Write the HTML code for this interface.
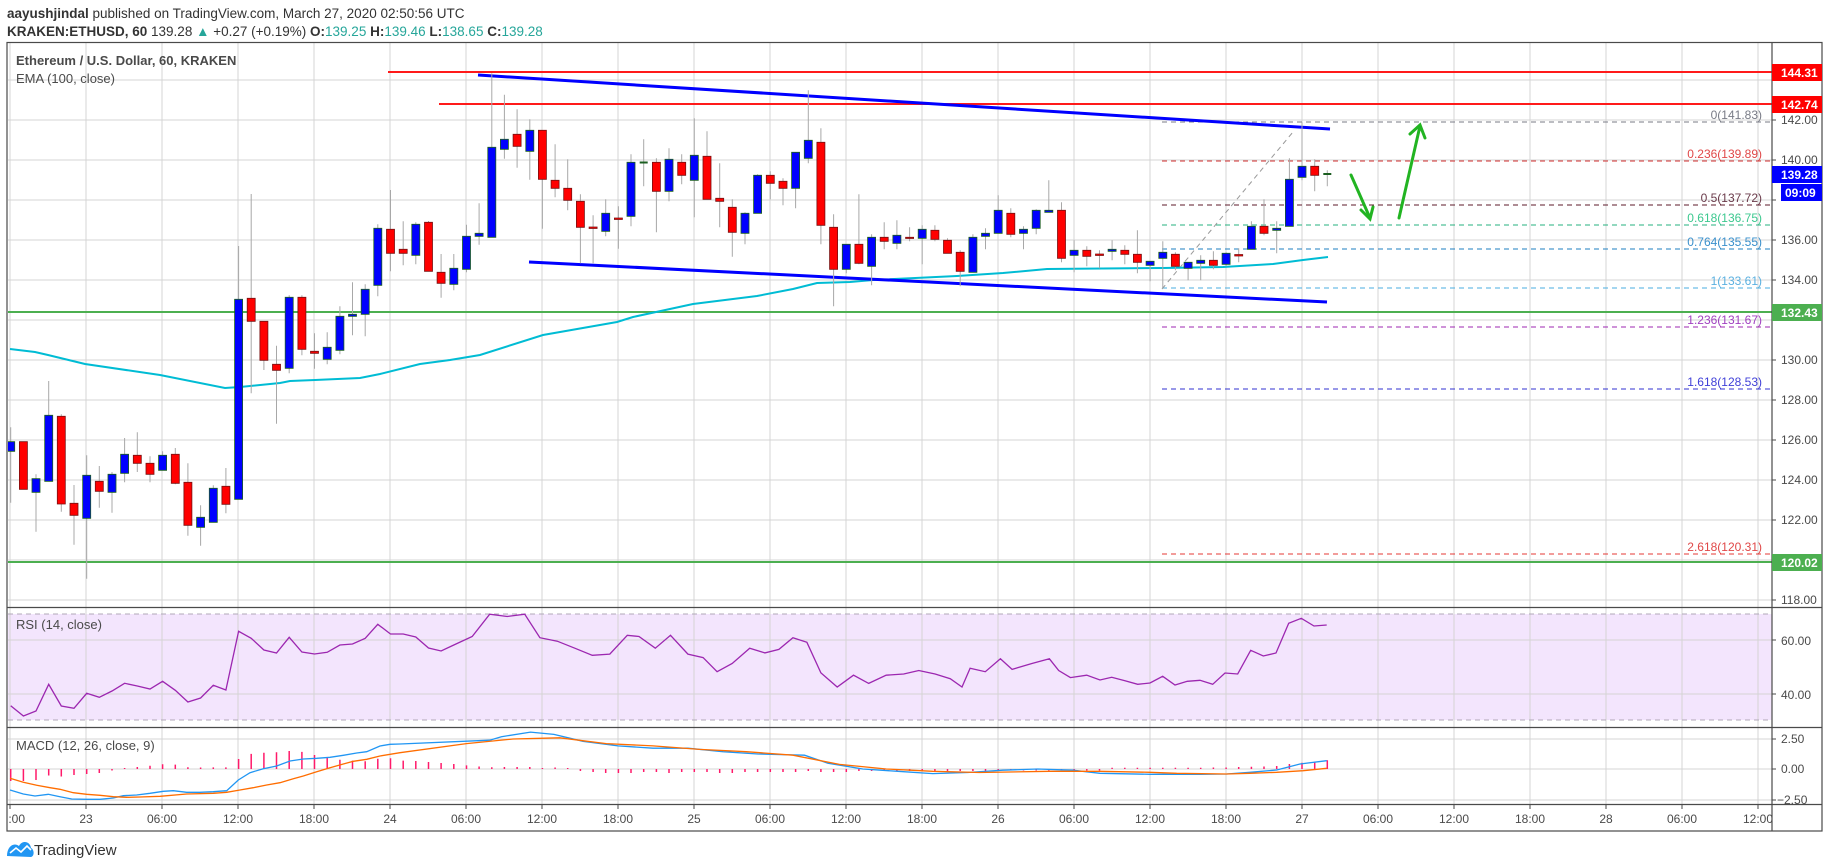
<!DOCTYPE html>
<html><head><meta charset="utf-8">
<style>
html,body{margin:0;padding:0;background:#fff;}
svg{display:block;font-family:"Liberation Sans",sans-serif;}
</style></head>
<body>
<svg width="1828" height="868" viewBox="0 0 1828 868" xmlns="http://www.w3.org/2000/svg">
<defs>
<clipPath id="cm"><rect x="8" y="43" width="1764" height="564"/></clipPath>
<clipPath id="ct"><rect x="8" y="805" width="1764" height="26"/></clipPath>
</defs>
<rect width="1828" height="868" fill="#fff"/>
<text x="7" y="18" font-size="13.5" fill="#333"><tspan font-weight="bold">aayushjindal</tspan> published on TradingView.com, March 27, 2020 02:50:56 UTC</text>
<text x="7" y="36" font-size="13.5" fill="#333"><tspan font-weight="bold">KRAKEN:ETHUSD, 60</tspan> 139.28 <tspan fill="#26a69a">▲</tspan> +0.27 (+0.19%) <tspan font-weight="bold">O:</tspan><tspan fill="#26a69a">139.25</tspan> <tspan font-weight="bold">H:</tspan><tspan fill="#26a69a">139.46</tspan> <tspan font-weight="bold">L:</tspan><tspan fill="#26a69a">138.65</tspan> <tspan font-weight="bold">C:</tspan><tspan fill="#26a69a">139.28</tspan></text>

<rect x="8" y="614" width="1764" height="106" fill="#f3e5fd"/>
<path stroke="#d4d4d4" stroke-width="1" fill="none" d="M10,43V804M86,43V804M162,43V804M238,43V804M314,43V804M390,43V804M466,43V804M542,43V804M618,43V804M694,43V804M770,43V804M846,43V804M922,43V804M998,43V804M1074,43V804M1150,43V804M1226,43V804M1302,43V804M1378,43V804M1454,43V804M1530,43V804M1606,43V804M1682,43V804M1758,43V804
M8,80H1772M8,120H1772M8,160H1772M8,200H1772M8,240H1772M8,280H1772M8,320H1772M8,360H1772M8,400H1772M8,440H1772M8,480H1772M8,520H1772M8,560H1772M8,600H1772M8,640H1772M8,694H1772M8,739H1772M8,769H1772M8,800H1772"/>
<line x1="8" y1="614" x2="1772" y2="614" stroke="#b0a8b8" stroke-dasharray="5,4"/>
<line x1="8" y1="720" x2="1772" y2="720" stroke="#b0a8b8" stroke-dasharray="5,4"/>

<g clip-path="url(#cm)">
<line x1="388" y1="72" x2="1772" y2="72" stroke="#ff1a1a" stroke-width="2"/>
<line x1="439" y1="104" x2="1772" y2="104" stroke="#ff1a1a" stroke-width="2"/>
<line x1="8" y1="312" x2="1772" y2="312" stroke="#4caf50" stroke-width="2"/>
<line x1="8" y1="562" x2="1772" y2="562" stroke="#4caf50" stroke-width="2"/>
<g stroke-dasharray="5,4" stroke-width="1">
<line x1="1162" y1="122" x2="1772" y2="122" stroke="#787b86"/>
<line x1="1162" y1="161" x2="1772" y2="161" stroke="#d32f2f"/>
<line x1="1162" y1="205" x2="1772" y2="205" stroke="#5d1a2a"/>
<line x1="1162" y1="225" x2="1772" y2="225" stroke="#26b07f"/>
<line x1="1162" y1="249" x2="1772" y2="249" stroke="#1e7fc0"/>
<line x1="1162" y1="288" x2="1772" y2="288" stroke="#4aaee0"/>
<line x1="1162" y1="327" x2="1772" y2="327" stroke="#9c27b0"/>
<line x1="1162" y1="389" x2="1772" y2="389" stroke="#3030d0"/>
<line x1="1162" y1="554" x2="1772" y2="554" stroke="#e53935"/>
<line x1="1162" y1="289" x2="1293" y2="132" stroke="#999"/>
</g>
<g font-size="12" text-anchor="end">
<text x="1762" y="119" fill="#787b86">0(141.83)</text>
<text x="1762" y="158" fill="#e04848">0.236(139.89)</text>
<text x="1762" y="202" fill="#6a3a4a">0.5(137.72)</text>
<text x="1762" y="222" fill="#3cc88f">0.618(136.75)</text>
<text x="1762" y="246" fill="#3a90cc">0.764(135.55)</text>
<text x="1762" y="285" fill="#5ab0e0">1(133.61)</text>
<text x="1762" y="324" fill="#a040c0">1.236(131.67)</text>
<text x="1762" y="386" fill="#4040d8">1.618(128.53)</text>
<text x="1762" y="551" fill="#e04848">2.618(120.31)</text>
</g>
<polyline fill="none" stroke="#00bcd4" stroke-width="2" points="10,349 35,352 48,355 85,364 160,375 225,388 240,387 280,383 290,381 315,380 360,378 380,374 420,364 450,360 480,355 543,335 617,322 633,317 693,304 733,299 757,296 793,289 817,283 850,282 873,280 957,276 1003,273 1047,269 1163,268 1223,267 1273,264 1303,260 1328,257"/>
<line x1="478" y1="75" x2="1330" y2="129" stroke="#0000ff" stroke-width="3"/>
<line x1="529" y1="262" x2="1327" y2="302" stroke="#0000ff" stroke-width="3"/>
<path stroke="#a8a8a8" stroke-width="1" fill="none" d="M10.7,427.3V502.7M23.4,441.7V489.3M36,474.3V531.7M48.7,381V481.3M61.3,414.3V511.7M74,485V544.7M86.7,455.3V578.7M99.3,466V507.7M112,472V512.7M124.6,438V482.3M137.3,432.3V472M150,456.3V482.3M162.6,451.3V470.3M175.3,448V484.3M187.9,463.3V535.7M200.6,505.3V545.7M213.3,485.3V522.3M225.9,468V513.3M238.6,246V499.3M251.2,194V393.3M263.9,321.3V370M276.5,345.7V423.7M289.2,295.3V373.3M301.9,295.3V355.3M314.5,333.3V368.7M327.2,332.3V364.3M339.9,306.3V354.3M352.5,282.3V335.3M365.2,284.3V336.3M377.8,224.3V296.3M390.5,190V271.3M403.2,221.3V265.3M415.8,222.3V264.3
M428.5,221V271.3M441.1,254V297.7M453.8,254V290.3M466.5,224.7V272.3M479.1,203.3V244.7M491.8,73.3V237.3M504.4,94.7V158.7M517.1,109.3V167.7M529.8,119.3V179.7M542.4,130.3V228.7M555.1,144.3V197.3M567.7,159.3V210.3M580.4,194.3V263.3M593.1,215.3V263.3M605.7,199.3V236.3M618.4,206.3V248.7M631,154.3V226.3M643.7,139.3V186.3M656.4,158.3V232.3M669,148.3V201.3M681.7,154.3V184.3M694.3,118.3V217.3M707,131.3V199.3M719.7,163.3V227.3M732.3,199.3V256.7M745,212.3V244.3M757.6,174.3V213.3M770.3,171.3V199.3M783,178.3V205.3M795.6,152.3V208.3M808.3,90.3V163.3M820.9,128.3V244.3M833.6,214.3V306.3M846.3,244.3V273.3
M858.9,194.3V264.3M871.6,234.3V285.3M884.2,222.3V249.3M896.9,220.3V249.3M909.6,227.3V241.3M922.2,225.3V264.3M934.9,225.3V241.3M947.5,238.3V253.3M960.2,250.3V286.3M972.9,234.3V272.3M985.5,228.3V249.3M998.2,195.3V233.3M1010.8,208.3V237.3M1023.5,226.3V249.3M1036.2,209.3V234.3M1048.8,180.3V212.3M1061.5,202.3V262.3M1074.1,240.3V272.3M1086.8,246.3V266.3M1099.5,250.3V268.3M1112.1,240.3V260.3M1124.8,245.3V264.3M1137.4,230.3V273.3M1150.1,261.3V281.3M1162.8,241.3V288.7M1175.4,252.3V270.3M1188.1,262.3V280.3M1200.7,255.3V280.3M1213.4,251.3V269.3M1226.1,252.3V266.3M1238.7,248.3V262.3M1251.4,221.3V249.3M1264,199.3V235.3M1276.7,221.3V253.3M1289.4,158.3V226.3M1302,122.3V180.3M1314.7,159.3V191.3M1327.3,170.3V186.3"/>
<path fill="#0000ff" stroke="#1b5e20" stroke-width="0.8" d="M6.7,441.7h8V451.3h-8ZM32,478.7h8V492.3h-8ZM44.7,415.3h8V481.3h-8ZM82.7,475.3h8V518.3h-8ZM108,474.3h8V492.3h-8ZM120.6,454.3h8V473.3h-8ZM158.6,455.3h8V470.3h-8ZM196.6,517.3h8V527.3h-8ZM209.3,488.3h8V522.3h-8ZM234.6,299.3h8V499.3h-8ZM285.2,297.3h8V368.3h-8ZM323.2,347.3h8V359.3h-8ZM335.9,316.3h8V350.3h-8ZM348.5,314.3h8V316.3h-8ZM361.2,289.3h8V314.3h-8ZM373.8,228.3h8V285.3h-8ZM411.8,224.3h8V255.3h-8Z
M449.8,268.3h8V284.3h-8ZM462.5,236.3h8V269.3h-8ZM475.1,233.3h8V236.3h-8ZM487.8,147.3h8V237.3h-8ZM500.4,139.3h8V149.3h-8ZM525.8,130.3h8V151.3h-8ZM601.7,213.3h8V231.3h-8ZM627,162.3h8V216.3h-8ZM665,159.3h8V191.3h-8ZM690.3,155.3h8V180.3h-8ZM741,213.3h8V233.3h-8ZM753.6,175.3h8V213.3h-8ZM791.6,152.3h8V188.3h-8ZM804.3,140.3h8V158.3h-8ZM842.3,244.3h8V269.3h-8Z
M867.6,237.3h8V266.3h-8ZM892.9,235.3h8V243.3h-8ZM918.2,229.3h8V238.3h-8ZM968.9,237.3h8V272.3h-8ZM981.5,233.3h8V236.3h-8ZM994.2,210.3h8V233.3h-8ZM1019.5,229.3h8V233.3h-8ZM1032.2,210.3h8V228.3h-8ZM1044.8,210.3h8V212.3h-8ZM1070.1,250.3h8V255.3h-8ZM1108.1,249.3h8V251.3h-8ZM1146.1,261.3h8V265.3h-8ZM1158.8,252.3h8V258.3h-8ZM1184.1,262.3h8V268.3h-8ZM1196.7,260.3h8V263.3h-8ZM1222.1,253.3h8V264.3h-8ZM1247.4,226.3h8V249.3h-8ZM1272.7,228.3h8V230.3h-8ZM1285.4,179.3h8V226.3h-8ZM1298,166.3h8V177.3h-8Z"/>
<path fill="#ff0000" stroke="#7a1010" stroke-width="0.8" d="M19.4,441.7h8V489.3h-8ZM57.3,416.3h8V504h-8ZM70,503.3h8V515.3h-8ZM95.3,481.3h8V491.3h-8ZM133.3,455.3h8V463.3h-8ZM146,463.3h8V474.3h-8ZM171.3,454.3h8V483.3h-8ZM183.9,482.3h8V525.3h-8ZM221.9,486.3h8V504.3h-8ZM247.2,298.3h8V321.3h-8ZM259.9,321.3h8V360.3h-8ZM272.5,364.3h8V370.3h-8ZM297.9,297.3h8V349.3h-8ZM310.5,351.3h8V353.3h-8ZM386.5,229.3h8V253.3h-8ZM399.2,249.3h8V253.3h-8Z
M424.5,222.3h8V271.3h-8ZM437.1,272.3h8V283.3h-8ZM513.1,134.3h8V146.3h-8ZM538.4,130.3h8V179.3h-8ZM551.1,180.3h8V188.3h-8ZM563.7,188.3h8V200.3h-8ZM576.4,201.3h8V227.3h-8ZM589.1,227h8V228.5h-8ZM614.4,218h8V219.5h-8ZM652.4,162.3h8V191.3h-8ZM677.7,162.3h8V175.3h-8ZM703,156.3h8V199.3h-8ZM715.7,198.3h8V201.3h-8ZM728.3,207.3h8V232.3h-8ZM766.3,175.3h8V183.3h-8ZM779,181.3h8V188.3h-8ZM816.9,142.3h8V225.3h-8ZM829.6,227.3h8V269.3h-8Z
M854.9,244.3h8V263.3h-8ZM880.2,237.3h8V241.3h-8ZM905.6,237.3h8V238.5h-8ZM930.9,230.3h8V239.3h-8ZM943.5,240.3h8V253.3h-8ZM956.2,252.3h8V271.3h-8ZM1006.8,213.3h8V234.3h-8ZM1057.5,210.3h8V258.3h-8ZM1082.8,250.3h8V256.3h-8ZM1095.5,254h8V255.5h-8ZM1120.8,250.3h8V254.3h-8ZM1133.4,254.3h8V262.3h-8ZM1171.4,254.3h8V266.3h-8ZM1209.4,260.3h8V265.3h-8ZM1234.7,254.5h8V256h-8ZM1260,226.3h8V233.3h-8ZM1310.7,166.3h8V175.3h-8Z"/>
<path fill="#1b5e20" d="M639.7,161.5h8v2h-8ZM1323.3,173h8v2h-8Z"/>
<g stroke="#22b422" stroke-width="3" fill="none" stroke-linecap="round">
<line x1="1351" y1="175" x2="1370" y2="218"/>
<polyline points="1361,210 1370,219 1373,207"/>
<line x1="1399" y1="218" x2="1420" y2="126"/>
<polyline points="1410,134 1420,125 1425,138"/>
</g>
</g>

<polyline fill="none" stroke="#9c27b0" stroke-width="1.3" points="10.7,705.7 23.4,716 36,711 48.7,684.3 61.3,706 74,708.3 86.7,693.3 99.3,697.3 112,691 124.6,683.3 137.3,686 150,689 162.6,681.3 175.3,690.3 187.9,702 200.6,698 213.3,685.3 225.9,690 238.6,631.3 251.2,638.3 263.9,650 276.5,653 289.2,637.3 301.9,652 314.5,654 327.2,652.3 339.9,645 352.5,644 365.2,638.3 377.8,624.3 390.5,634 403.2,634 415.8,637 428.5,648 441.1,651 453.8,645 472.2,636.5 489.7,614.2 507.2,616.5 524.7,614.2 539.9,637.7 557.3,641.2 574.8,648.2 592.3,655.3 609.8,654.1 627.3,635.3 639,636.5 655.3,648.2 670.5,635.3 687.9,654.1 703.1,657.6 717.1,671.7 732.2,663.5 749.7,648.2 764.9,652.9 778.9,649.4 792.9,637.7 806.9,642.3 820.9,672.9 837.2,687 853.5,675.2 868.7,683.4 886.2,675.2 903.7,674 918.8,670.5 935.1,674 950.3,678.7 962,687 970.1,668.2 985.3,671.7 1000.4,658.8 1012.1,669.4 1031.9,663.5 1049.4,658.8 1058.7,670.5 1070.4,677.6 1086.7,675.2 1100,680 1111.7,677.3 1125,680.7 1137.7,684.3 1150,683 1162.7,676.3 1175,685 1187.3,681.3 1200,680.3 1212.7,684.3 1225,673 1237.7,674 1250.7,650.3 1263.3,656 1276,653 1288.7,623.3 1301.3,618.3 1314,626 1326.7,625"/>

<path stroke="#ff1a6a" stroke-width="1.5" fill="none" d="M10.7,769V781M23.4,769V781M36,769V780M48.7,769V775.5M61.3,769V776.5M74,769V775M86.7,769V774M99.3,769V773M112,769V770.5M124.6,769V768M137.3,769V767M150,769V765.7M162.6,769V764.3M175.3,769V764.6M187.9,769V767.3M200.6,769V767.5M213.3,769V767.4M225.9,769V767.4M238.6,769V759M251.2,769V753.9M263.9,769V752.7M276.5,769V752.3M289.2,769V751M301.9,769V751.9M314.5,769V755M327.2,769V758M339.9,769V759.8M352.5,769V760.6M365.2,769V761.3M377.8,769V758.8M390.5,769V758.3M403.2,769V760.6M415.8,769V761M428.5,769V762M441.1,769V763M453.8,769V764M466.5,769V765.4M479.1,769V766.5M491.8,769V767.3M504.4,769V767M517.1,769V767M529.8,769V767M542.4,769V768M555.1,769V767.5M567.7,769V768M580.4,769V771M593.1,769V772M605.7,769V773M618.4,769V773M631,769V773M643.7,769V772M656.4,769V772M669,769V773M681.7,769V772M694.3,769V772M707,769V772M719.7,769V773M732.3,769V773M745,769V772M757.6,769V772M770.3,769V772M783,769V772M795.6,769V772M808.3,769V771M820.9,769V772M833.6,769V772M846.3,769V772M858.9,769V771M871.6,769V771M884.2,769V771M896.9,769V771M909.6,769V771M922.2,769V771M934.9,769V771M947.5,769V771M960.2,769V771M972.9,769V771M985.5,769V771M998.2,769V770.5M1010.8,769V770.5M1023.5,769V770.5M1036.2,769V770.5M1048.8,769V770.5M1061.5,769V770.5M1074.1,769V770.5M1086.8,769V770.5M1099.5,769V770.5M1112.1,769V767.8M1124.8,769V767.8M1137.4,769V767.8M1150.1,769V767.8M1162.8,769V767.8M1175.4,769V767.8M1188.1,769V767.8M1200.7,769V767.8M1213.4,769V767.5M1226.1,769V767.5M1238.7,769V767M1251.4,769V766.7M1264,769V766.5M1276.7,769V766M1289.4,769V764M1302,769V762.7M1314.7,769V761.7M1327.3,769V760.3"/>
<polyline fill="none" stroke="#2196f3" stroke-width="1.3" points="10,790 23.3,794 35,796 48.3,794.3 60,796.7 71.7,799 86.7,799.3 100,799.3 113.3,798 123.3,795.7 136.7,795 150,793.3 163.3,791.3 173.3,790.7 186.7,792.3 200,792.3 213.3,791.7 226.7,790.7 238.3,780 250,772.7 263.3,768.7 276.7,766 290,761 303.3,759 316.7,758.3 330,757.3 343.3,755.3 356.7,753 366.7,751.7 380,746 390,744.3 400,744 489.7,740.2 501.4,736.7 530.5,732.1 553.9,734.4 583,741.3 618,745.9 653,748.2 687.9,748.2 722.9,751.7 757.9,754 804.5,755.2 827.9,763.2 862.8,769 897.8,771.3 932.8,773.6 967.8,772.5 1002.8,770.2 1037.7,769 1072.7,770.2 1100,773.3 1150,774.3 1200,774.3 1226.7,774 1250,772.3 1276.7,770 1300,764 1326.7,760.7"/>
<polyline fill="none" stroke="#ff6d00" stroke-width="1.3" points="10,778.3 23.3,782.3 36.7,785.3 50,787.7 60,789.3 73.3,792.7 86.7,794.3 100,795.3 113.3,796.7 126.7,797.3 140,797 160,796.3 186.7,794 213.3,793.3 226.7,792.3 240,790 253.3,787.7 266.7,785 280,782.7 293.3,778.7 303.3,776 316.7,771.7 330,767.7 343.3,764 353.3,761.3 366.7,759.3 380,756 400,752.7 466.4,743.6 513,739 559.7,737.8 606.3,743.6 653,745.9 699.6,749.4 746.2,751.7 792.9,755.2 839.5,764.4 886.2,769 932.8,771.3 979.4,772.5 1049.4,771.3 1100,771.3 1150,772.3 1176.7,773.3 1226.7,774 1250,773.3 1276.7,772.3 1303.3,770.7 1326.7,768.3"/>

<text x="16" y="65" font-size="13" font-weight="bold" fill="#4a4a4a">Ethereum / U.S. Dollar, 60, KRAKEN</text>
<text x="16" y="83" font-size="13" fill="#4a4a4a">EMA (100, close)</text>
<text x="16" y="629" font-size="13" fill="#4a4a4a">RSI (14, close)</text>
<text x="16" y="750" font-size="13" fill="#4a4a4a">MACD (12, 26, close, 9)</text>

<g stroke="#4a4a4a" stroke-width="1.2" fill="none">
<rect x="7" y="42.5" width="1815" height="788.5"/>
<line x1="1772" y1="42" x2="1772" y2="831"/>
<line x1="7" y1="607.5" x2="1822" y2="607.5"/>
<line x1="7" y1="727.5" x2="1822" y2="727.5"/>
<line x1="7" y1="804.5" x2="1822" y2="804.5"/>
</g>
<path stroke="#4a4a4a" stroke-width="1" d="M10,805V809M86,805V809M162,805V809M238,805V809M314,805V809M390,805V809M466,805V809M542,805V809M618,805V809M694,805V809M770,805V809M846,805V809M922,805V809M998,805V809M1074,805V809M1150,805V809M1226,805V809M1302,805V809M1378,805V809M1454,805V809M1530,805V809M1606,805V809M1682,805V809M1758,805V809
M1772,80H1776M1772,120H1776M1772,160H1776M1772,200H1776M1772,240H1776M1772,280H1776M1772,320H1776M1772,360H1776M1772,400H1776M1772,440H1776M1772,480H1776M1772,520H1776M1772,560H1776M1772,600H1776M1772,640H1776M1772,694H1776M1772,739H1776M1772,769H1776M1772,800H1776"/>

<g font-size="12" fill="#4a4a4a">
<text x="1781" y="124">142.00</text>
<text x="1781" y="164">140.00</text>
<text x="1781" y="244">136.00</text>
<text x="1781" y="284">134.00</text>
<text x="1781" y="364">130.00</text>
<text x="1781" y="404">128.00</text>
<text x="1781" y="444">126.00</text>
<text x="1781" y="484">124.00</text>
<text x="1781" y="524">122.00</text>
<text x="1781" y="604">118.00</text>
<text x="1781" y="645">60.00</text>
<text x="1781" y="699">40.00</text>
<text x="1781" y="743">2.50</text>
<text x="1781" y="773">0.00</text>
<text x="1777" y="804">−2.50</text>
</g>
<rect x="1772" y="64" width="50" height="17" fill="#ff0000"/>
<text x="1781" y="77" font-size="12" font-weight="bold" fill="#fff">144.31</text>
<rect x="1772" y="96" width="50" height="17" fill="#ff0000"/>
<text x="1781" y="109" font-size="12" font-weight="bold" fill="#fff">142.74</text>
<rect x="1772" y="166" width="50" height="17" fill="#0000ff"/>
<text x="1781" y="179" font-size="12" font-weight="bold" fill="#fff">139.28</text>
<rect x="1781" y="184" width="41" height="17" fill="#0000ff"/>
<text x="1785" y="197" font-size="12" font-weight="bold" fill="#fff">09:09</text>
<rect x="1772" y="304" width="50" height="17" fill="#4caf50"/>
<text x="1781" y="317" font-size="12" font-weight="bold" fill="#fff">132.43</text>
<rect x="1772" y="554" width="50" height="17" fill="#4caf50"/>
<text x="1781" y="567" font-size="12" font-weight="bold" fill="#fff">120.02</text>

<g clip-path="url(#ct)" font-size="12" fill="#4a4a4a" text-anchor="middle">
<text x="10" y="823">18:00</text><text x="86" y="823">23</text><text x="162" y="823">06:00</text><text x="238" y="823">12:00</text>
<text x="314" y="823">18:00</text><text x="390" y="823">24</text><text x="466" y="823">06:00</text><text x="542" y="823">12:00</text>
<text x="618" y="823">18:00</text><text x="694" y="823">25</text><text x="770" y="823">06:00</text><text x="846" y="823">12:00</text>
<text x="922" y="823">18:00</text><text x="998" y="823">26</text><text x="1074" y="823">06:00</text><text x="1150" y="823">12:00</text>
<text x="1226" y="823">18:00</text><text x="1302" y="823">27</text><text x="1378" y="823">06:00</text><text x="1454" y="823">12:00</text>
<text x="1530" y="823">18:00</text><text x="1606" y="823">28</text><text x="1682" y="823">06:00</text><text x="1758" y="823">12:00</text>
</g>

<path fill="#2196f3" d="M7,856 C7,846 14,842 19,846 C22,840 30,841 31,848 C34,849 35,856 31,857 Z"/>
<polyline points="10,853 16,848 21,852 27,846 31,850" fill="none" stroke="#fff" stroke-width="1.6"/>
<text x="34" y="855" font-size="15" fill="#333">TradingView</text>
</svg>
</body></html>
